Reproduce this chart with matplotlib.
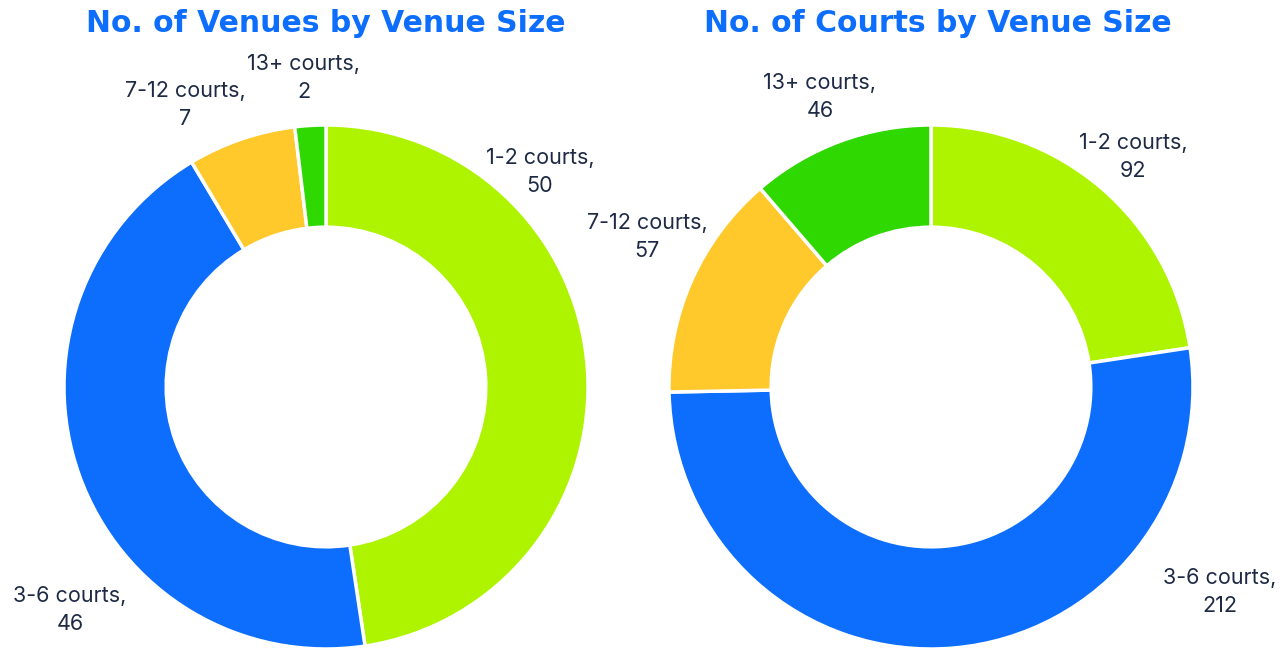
import matplotlib.pyplot as plt

labels = ["1-2 courts", "3-6 courts", "7-12 courts", "13+ courts"]
venues = [50, 46, 7, 2]
courts = [92, 212, 57, 46]
colors = ["#aef400", "#0d6efd", "#ffc92c", "#2ed800"]

titles = ["No. of Venues by Venue Size", "No. of Courts by Venue Size"]

# label positions (in radius units, relative to donut centre)
label_pos = [
    [(0.817, 0.821), (-0.977, -0.851), (-0.538, 1.076), (-0.084, 1.179)],
    [(0.771, 0.878), (1.103, -0.782), (-1.084, 0.573), (-0.424, 1.107)],
]

W, H = 1281, 651
R = 262  # outer radius in px
half = 300
centres = [(326, 387), (931, 387)]

fig = plt.figure(figsize=(W / 100, H / 100), dpi=100)
plt.rcParams['font.family'] = ['Inter', 'DejaVu Sans']

for i, vals in enumerate([venues, courts]):
    cx, cy = centres[i]
    ax = fig.add_axes([(cx - half) / W, (H - cy - half) / H, 2 * half / W, 2 * half / H])
    ax.pie(vals, colors=colors, startangle=90, counterclock=False,
           wedgeprops=dict(width=0.39, edgecolor="white", linewidth=2.5))
    lim = half / R
    ax.set_xlim(-lim, lim)
    ax.set_ylim(-lim, lim)
    ax.set_aspect("equal")
    ax.axis("off")
    for lab, v, (x, y) in zip(labels, vals, label_pos[i]):
        ax.text(x, y, f"{lab},\n{v}", ha="center", va="center", fontsize=15.5,
                color="#1e2a45", linespacing=1.5, clip_on=False)
    fig.text(cx / W + (0.005 if i else 0), 1 - 24 / H, titles[i], ha="center", va="center",
             fontsize=21.5, fontweight="heavy", color="#0d6efd",
             family=["DejaVu Sans"])

fig.savefig("out.png", dpi=100)
